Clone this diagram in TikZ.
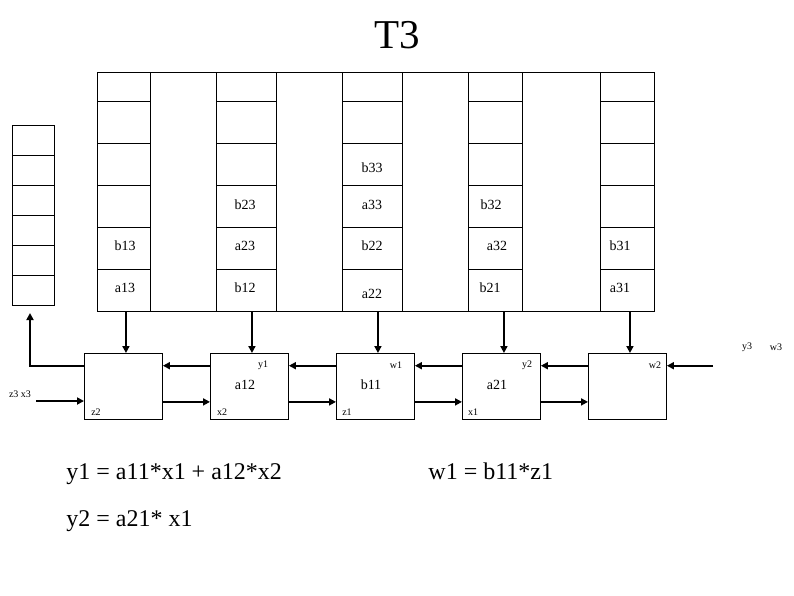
\documentclass[tikz,border=0pt]{standalone}
\usepackage{fontspec}
\setmainfont{Liberation Serif}
\usetikzlibrary{arrows.meta,positioning}
\tikzset{
  cellcol/.style={draw,minimum height=239pt,inner sep=0pt,anchor=north west},
  stackbox/.style={draw,minimum width=42pt,minimum height=180pt,inner sep=0pt,anchor=north west},
  pe/.style={draw,minimum width=78pt,minimum height=66pt,inner sep=0pt,anchor=north west},
  val/.style={font=\fontsize{14}{14}\selectfont,inner sep=0pt},
  tag/.style={font=\fontsize{10}{10}\selectfont,inner sep=0pt},
  eqn/.style={font=\fontsize{24}{24}\selectfont,inner sep=0pt,anchor=base west},
  flow/.style={-{Triangle[length=7pt,width=7pt]},line width=2.2pt}
}
\begin{document}
\begin{tikzpicture}[x=1pt,y=-1pt,line width=0.9pt]
  \useasboundingbox (0,0) rectangle (794,595);
  \node[font=\fontsize{41}{41}\selectfont] (title) at (397,35) {T3};
  % columns of the array
  \node[cellcol,minimum width=53pt] (col1) at (97,72) {};
  \node[cellcol,minimum width=60pt] (col2) at (216,72) {};
  \node[cellcol,minimum width=60pt] (col3) at (342,72) {};
  \node[cellcol,minimum width=54pt] (col4) at (468,72) {};
  \node[cellcol,minimum width=54pt] (col5) at (600,72) {};
  \draw (col1.north west) -- (col5.north east);
  \draw (col1.south west) -- (col5.south east);
  \foreach \c in {1,...,5}
    \foreach \y in {101,143,185,227,269}
      \draw (col\c.west |- 0,\y) -- (col\c.east |- 0,\y);
  % stack on the left
  \node[stackbox] (stack) at (12,125) {};
  \foreach \y in {155,185,215,245,275}
    \draw (stack.west |- 0,\y) -- (stack.east |- 0,\y);
  % values in the array
  \node[val] (b13) at (125,246) {b13};
  \node[val] (a13) at (125,288) {a13};
  \node[val] (b23) at (245,205) {b23};
  \node[val] (a23) at (245,246) {a23};
  \node[val] (b12) at (245,288) {b12};
  \node[val] (b33) at (372,168) {b33};
  \node[val] (a33) at (372,205) {a33};
  \node[val] (b22) at (372,246) {b22};
  \node[val] (a22) at (372,294) {a22};
  \node[val] (b32) at (491,205) {b32};
  \node[val] (a32) at (497,246) {a32};
  \node[val] (b21) at (490,288) {b21};
  \node[val] (b31) at (620,246) {b31};
  \node[val] (a31) at (620,288) {a31};
  % processing elements
  \node[pe] (pe1) at (84,353) {};
  \node[pe] (pe2) at (210,353) {};
  \node[pe] (pe3) at (336,353) {};
  \node[pe] (pe4) at (462,353) {};
  \node[pe] (pe5) at (588,353) {};
  \node[val] (a12) at (245,385) {a12};
  \node[val] (b11) at (371,385) {b11};
  \node[val] (a21) at (497,385) {a21};
  \node[tag] (ty1) at (263,365) {y1};
  \node[tag] (tw1) at (396,365) {w1};
  \node[tag] (ty2) at (527,365) {y2};
  \node[tag] (tw2) at (655,365) {w2};
  \node[tag] (tz2) at (96,412) {z2};
  \node[tag] (tx2) at (222,412) {x2};
  \node[tag] (tz1) at (347,412) {z1};
  \node[tag] (tx1) at (473,412) {x1};
  \node[tag] (ty3) at (747,347) {y3};
  \node[tag] (tw3) at (776,347) {w3};
  \node[tag] (tzx3) at (20,394) {z3 x3};
  \coordinate (in5) at (713,365.7);
  \coordinate (in1) at (36,401);
  \coordinate (out) at (30,313);
  % connections
  \foreach \i in {1,...,5}
    \draw[flow] ([xshift=2.5pt]pe\i.north |- col\i.south) -- ([xshift=2.5pt]pe\i.north);
  \foreach \i/\j in {1/2,2/3,3/4,4/5} {
    \draw[flow] ([yshift=-12.7pt]pe\j.north west) -- ([yshift=-12.7pt]pe\i.north east);
    \draw[flow] ([yshift=18pt]pe\i.south east) -- ([yshift=18pt]pe\j.south west);
  }
  \draw[flow] (in5) -- (pe5.east |- in5);
  \draw[flow] (in1) -- (pe1.west |- in1);
  \draw[flow] ([yshift=-12.7pt]pe1.north west) -| (out);
  % equations
  \node[eqn] (eq1) at (66,479) {y1 = a11*x1 + a12*x2};
  \node[eqn] (eq2) at (428,479) {w1 = b11*z1};
  \node[eqn] (eq3) at (66,526) {y2 = a21* x1};
\end{tikzpicture}
\end{document}
